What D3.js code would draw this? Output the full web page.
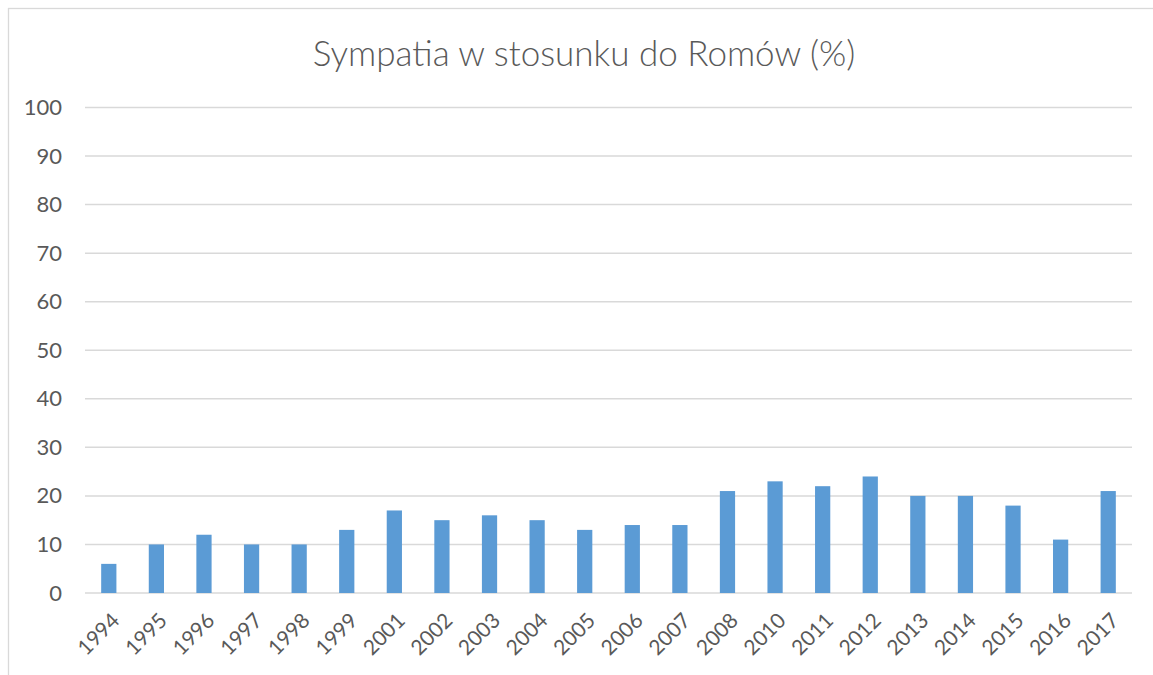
<!DOCTYPE html>
<html>
<head>
<meta charset="utf-8">
<script src="https://cdn.jsdelivr.net/npm/d3@7"></script>
<style>
    body { margin: 0; background: #fff; }
    svg { display: block; font-family: Lato, "Open Sans", sans-serif; }
</style>
</head>
<body>
<svg id="chart" width="1153" height="675"></svg>
<script>
"use strict";

const title = 'Sympatia w stosunku do Romów (%)';
const years = ['1994', '1995', '1996', '1997', '1998', '1999', '2001', '2002', '2003', '2004', '2005',
    '2006', '2007', '2008', '2010', '2011', '2012', '2013', '2014', '2015', '2016', '2017'];
const values = [6, 10, 12, 10, 10, 13, 17, 15, 16, 15, 13, 14, 14, 21, 23, 22, 24, 20, 20, 18, 11, 21];
const yTicks = [0, 10, 20, 30, 40, 50, 60, 70, 80, 90, 100];

const margin = { top: 107.5, right: 21, bottom: 82, left: 85 };
const width = 1153, height = 675;

const svg = d3.select('#chart');

// chart area frame (right and bottom edges run off the page)
svg.append('rect')
    .attr('x', 8.5).attr('y', 8.5)
    .attr('width', 1200).attr('height', 700)
    .attr('fill', 'none')
    .attr('stroke', '#d9d9d9')
    .attr('stroke-width', 1.3);

const x = d3.scaleBand()
    .domain(years)
    .range([margin.left, width - margin.right])
    .paddingInner(0.68)
    .paddingOuter(0.34);

const y = d3.scaleLinear()
    .domain([0, 100])
    .range([height - margin.bottom, margin.top]);

// gridlines
svg.append('g')
    .selectAll('line')
    .data(yTicks)
    .enter()
    .append('line')
    .attr('x1', margin.left)
    .attr('x2', width - margin.right)
    .attr('y1', d => y(d))
    .attr('y2', d => y(d))
    .attr('stroke', '#d9d9d9')
    .attr('stroke-width', 1.5);

// y axis labels
const yAxis = svg.append('g')
    .attr('transform', `translate(${margin.left - 23},0)`)
    .call(d3.axisLeft(y).tickValues(yTicks).tickSize(0).tickPadding(0));
yAxis.select('.domain').remove();
yAxis.selectAll('text')
    .attr('fill', '#595959')
    .style('font-size', '22px')
    .style('font-family', 'Lato, "Open Sans", sans-serif');

// bars
svg.append('g')
    .selectAll('rect')
    .data(values)
    .enter()
    .append('rect')
    .attr('x', (d, i) => x(years[i]))
    .attr('y', d => y(d))
    .attr('width', x.bandwidth())
    .attr('height', d => y(0) - y(d))
    .attr('fill', '#5b9bd5');

// x axis labels, rotated
const xAxis = svg.append('g')
    .attr('transform', `translate(0,${y(0)})`)
    .call(d3.axisBottom(x).tickSize(0).tickPadding(0));
xAxis.select('.domain').remove();
xAxis.selectAll('text')
    .attr('fill', '#595959')
    .style('font-size', '21px')
    .style('font-family', 'Lato, "Open Sans", sans-serif')
    .attr('text-anchor', 'end')
    .attr('dy', 0)
    .attr('transform', 'translate(12,29) rotate(-45)');

// title
svg.append('text')
    .attr('x', 584)
    .attr('y', 66)
    .attr('text-anchor', 'middle')
    .attr('fill', '#595959')
    .style('font-size', '35px')
    .style('font-weight', 300)
    .text(title);
</script>
</body>
</html>
